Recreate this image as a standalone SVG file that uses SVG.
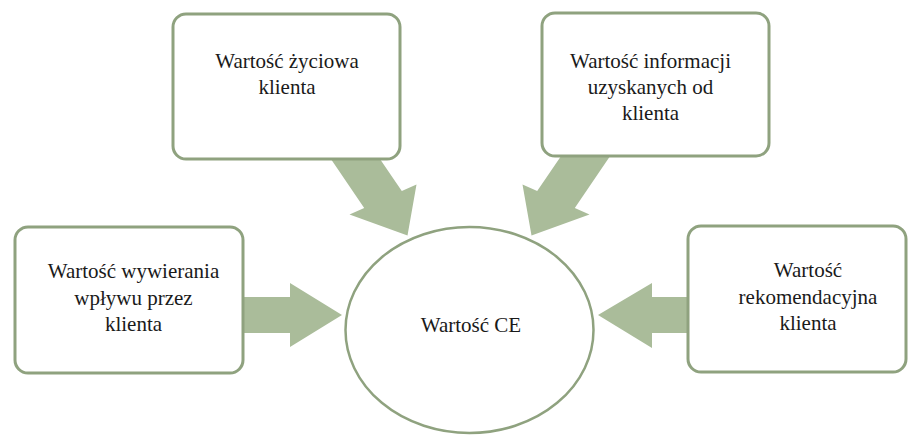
<svg xmlns="http://www.w3.org/2000/svg" width="908" height="435" viewBox="0 0 908 435">
  <style>
    .box { fill: #ffffff; stroke: #8fa27f; stroke-width: 3; }
    .hub { fill: #ffffff; stroke: #8fa27f; stroke-width: 2.5; }
    .arrow { fill: #aabc9a; stroke: none; }
    .label { font-family: "Liberation Serif", "Times New Roman", serif; font-size: 21px; fill: #1a1a1a; text-anchor: middle; }
  </style>
  <rect width="908" height="435" fill="#ffffff"/>

  <!-- block arrows pointing into the central ellipse -->
  <g id="connectors">
    <polygon class="arrow" points="318,140 364.2,207.9 349.5,214.5 407.5,235.5 416.5,184.5 401.8,191.1 367,140"/>
    <polygon class="arrow" points="621,140 574.8,207.9 589.5,214.5 531.5,235.5 522.5,184.5 537.2,191.1 572,140"/>
    <polygon class="arrow" points="230,297 290,297 290,283 342,315 290,347 290,333 230,333"/>
    <polygon class="arrow" points="700,297 652,297 652,283 598,315 652,348 652,333 700,333"/>
  </g>

  <g id="node-zyciowa">
    <rect class="box" x="173" y="14" width="227" height="145" rx="13"/>
    <text class="label" x="287" y="68">Wartość życiowa</text>
    <text class="label" x="287" y="94">klienta</text>
  </g>

  <g id="node-informacji">
    <rect class="box" x="542" y="13" width="227" height="143" rx="13"/>
    <text class="label" x="650.5" y="68">Wartość informacji</text>
    <text class="label" x="650.5" y="94">uzyskanych od</text>
    <text class="label" x="650.5" y="120">klienta</text>
  </g>

  <g id="node-wplywu">
    <rect class="box" x="15" y="227" width="228" height="146" rx="13"/>
    <text class="label" x="133.5" y="278">Wartość wywierania</text>
    <text class="label" x="133.5" y="304.5">wpływu przez</text>
    <text class="label" x="133.5" y="331">klienta</text>
  </g>

  <g id="node-rekomendacyjna">
    <rect class="box" x="688" y="226" width="218" height="146" rx="13"/>
    <text class="label" x="808" y="277">Wartość</text>
    <text class="label" x="808" y="303.5">rekomendacyjna</text>
    <text class="label" x="808" y="330">klienta</text>
  </g>

  <g id="node-ce">
    <ellipse class="hub" cx="469.5" cy="330" rx="124" ry="103"/>
    <text class="label" x="471" y="332">Wartość CE</text>
  </g>
</svg>
